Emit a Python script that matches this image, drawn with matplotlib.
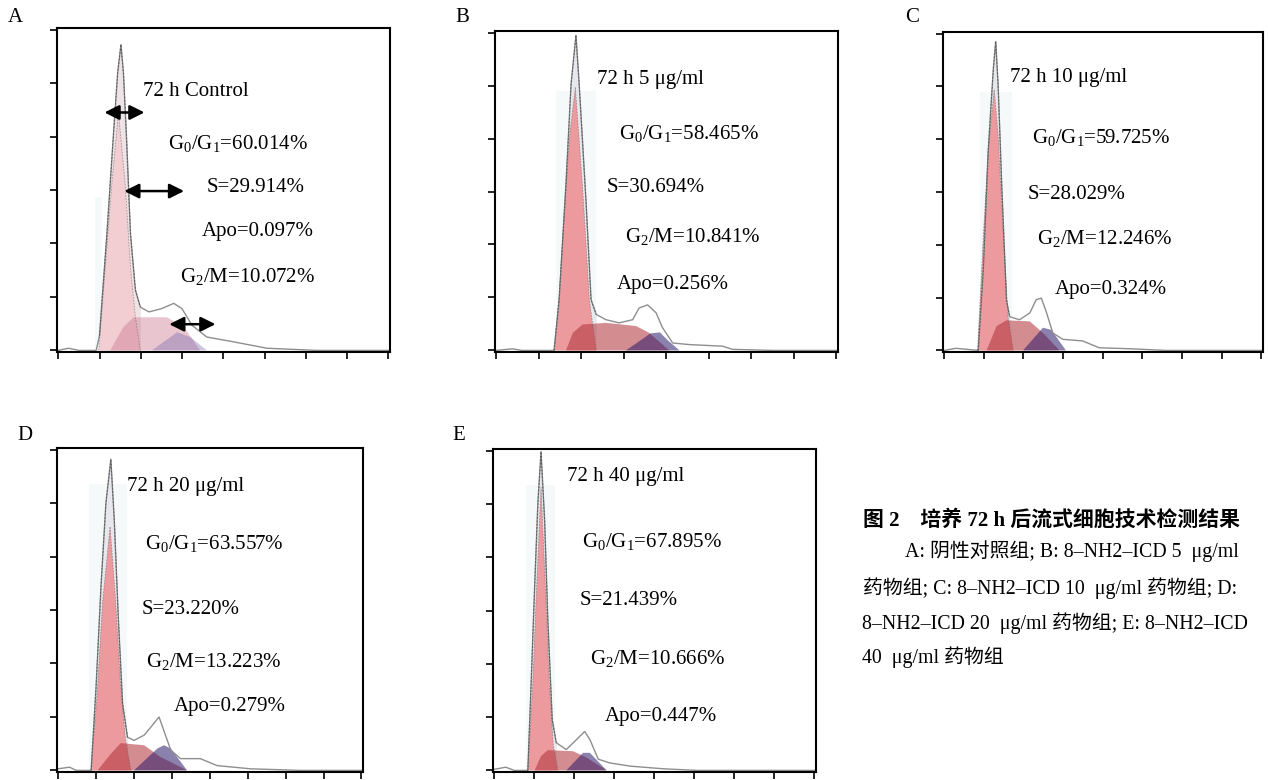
import matplotlib
matplotlib.use('Agg')
import matplotlib.pyplot as plt

plt.rcParams['font.family'] = ['Liberation Serif', 'Noto Sans CJK SC']
plt.rcParams['mathtext.fontset'] = 'custom'
plt.rcParams['mathtext.rm'] = 'Liberation Serif'
plt.rcParams['mathtext.it'] = 'Liberation Serif:italic'

W, H = 1268, 780
panels = ['A', 'B', 'C', 'D', 'E']

# DNA content histogram outline (channel 0-8, count 0-6)
hist_x = {
    'A': [0, 0.25, 0.5, 0.92, 1.0, 1.18, 1.34, 1.44, 1.52, 1.58, 1.65, 1.75, 1.87, 1.99,
          2.2, 2.5, 2.8, 3.0, 3.24, 3.6, 4.25, 5.06, 6.27, 8.0],
    'B': [0, 0.38, 0.6, 1.36, 1.48, 1.64, 1.76, 1.875, 1.95, 2.11, 2.23, 2.35, 2.58, 2.89,
          3.21, 3.36, 3.56, 3.76, 3.91, 4.15, 4.54, 5.32, 5.56, 6.5, 8.0],
    'C': [0, 0.3, 0.86, 0.99, 1.11, 1.24, 1.30, 1.36, 1.45, 1.57, 1.65, 1.90, 2.16, 2.32,
          2.45, 2.57, 2.74, 2.99, 3.49, 3.91, 4.74, 5.58, 8.0],
    'D': [0, 0.30, 0.48, 0.87, 1.0, 1.13, 1.26, 1.39, 1.48, 1.59, 1.70, 1.83, 2.0, 2.27,
          2.48, 2.66, 2.79, 2.97, 3.23, 3.75, 4.19, 5.07, 6.38, 8.0],
    'E': [0, 0.29, 0.5, 0.84, 0.92, 1.01, 1.09, 1.17, 1.26, 1.34, 1.45, 1.55, 1.80, 2.06,
          2.26, 2.39, 2.60, 2.89, 3.40, 4.23, 5.07, 8.0],
}
hist_y = {
    'A': [0, 0.04, 0, 0, 0.28, 2.19, 4.06, 5.19, 5.72, 5.19, 4.06, 2.19, 1.13, 0.81,
          0.72, 0.78, 0.88, 0.78, 0.47, 0.25, 0.16, 0.04, 0, 0],
    'B': [0, 0.03, 0, 0, 0.96, 3.15, 5.03, 5.95, 5.03, 2.84, 0.96, 0.68, 0.58, 0.52,
          0.58, 0.80, 0.86, 0.71, 0.43, 0.14, 0.11, 0.08, 0.02, 0, 0],
    'C': [0, 0.04, 0, 1.58, 3.78, 5.34, 5.85, 5.03, 3.15, 0.96, 0.64, 0.58, 0.71, 0.96,
          0.99, 0.74, 0.33, 0.21, 0.18, 0.05, 0.03, 0, 0],
    'D': [0.03, 0.06, 0, 0, 1.56, 3.44, 5.0, 5.82, 4.69, 2.81, 1.25, 0.62, 0.56, 0.66,
          0.84, 1.0, 0.74, 0.38, 0.22, 0.22, 0.09, 0.03, 0, 0],
    'E': [0.02, 0.06, 0, 0, 1.58, 3.44, 5.0, 5.98, 4.69, 2.82, 0.95, 0.52, 0.39, 0.58,
          0.73, 0.58, 0.21, 0.14, 0.08, 0.03, 0, 0],
}

# fitted cell-cycle components
g1_x = {
    'A': [0.98, 1.14, 1.30, 1.46, 1.62, 1.75, 1.87, 1.99],
    'B': [1.36, 1.47, 1.62, 1.73, 1.86, 1.94, 2.05, 2.19, 2.35],
    'C': [0.84, 0.99, 1.11, 1.26, 1.36, 1.49, 1.61, 1.74],
    'D': [0.87, 1.04, 1.17, 1.37, 1.52, 1.65, 1.78, 1.92],
    'E': [0.84, 0.96, 1.06, 1.17, 1.28, 1.38, 1.48, 1.59],
}
g1_y = {
    'A': [0, 1.56, 3.13, 4.44, 3.13, 1.56, 0.62, 0],
    'B': [0, 0.96, 2.84, 4.09, 4.97, 4.09, 2.84, 0.96, 0],
    'C': [0, 2.21, 3.78, 4.94, 4.09, 2.21, 0.64, 0],
    'D': [0, 1.56, 3.13, 4.56, 3.13, 1.56, 0.56, 0],
    'E': [0, 1.58, 3.44, 5.31, 3.44, 1.58, 0.45, 0],
}
s_x = {
    'A': [1.26, 1.58, 1.83, 2.63, 3.04, 3.44],
    'B': [1.64, 1.80, 2.03, 2.58, 3.29, 3.60, 4.07],
    'C': [1.07, 1.32, 1.57, 2.16, 2.49, 2.91],
    'D': [1.04, 1.39, 1.65, 2.27, 2.70, 3.40],
    'E': [1.01, 1.17, 1.34, 1.97, 2.31, 2.81],
}
s_y = {
    'A': [0, 0.44, 0.62, 0.62, 0.44, 0],
    'B': [0, 0.33, 0.49, 0.52, 0.46, 0.33, 0],
    'C': [0, 0.46, 0.57, 0.55, 0.33, 0],
    'D': [0, 0.31, 0.51, 0.47, 0.25, 0],
    'E': [0, 0.27, 0.38, 0.36, 0.24, 0],
}
g2_x = {
    'A': [2.27, 2.88, 3.20, 3.60],
    'B': [3.05, 3.45, 3.62, 3.85, 4.05, 4.31],
    'C': [1.99, 2.49, 2.70, 3.07],
    'D': [2.00, 2.62, 2.79, 2.97, 3.40],
    'E': [1.80, 2.22, 2.39, 2.81],
}
g2_y = {
    'A': [0, 0.34, 0.25, 0],
    'B': [0, 0.22, 0.32, 0.34, 0.18, 0],
    'C': [0, 0.43, 0.39, 0],
    'D': [0, 0.41, 0.47, 0.41, 0],
    'E': [0, 0.33, 0.33, 0],
}
# pale gate band behind the G1 peak: x from, x to, top
gate = {'A': (0.88, 1.06, 2.87), 'B': (1.40, 2.35, 4.9), 'C': (0.90, 1.70, 4.9),
        'D': (0.82, 1.81, 5.35), 'E': (0.80, 1.51, 5.35)}

titles = {'A': '72 h Control', 'B': '72 h 5 μg/ml', 'C': '72 h 10 μg/ml',
          'D': '72 h 20 μg/ml', 'E': '72 h 40 μg/ml'}
g0g1 = {'A': '60.014', 'B': '58.465', 'C': '59.725', 'D': '63.557', 'E': '67.895'}
s_phase = {'A': '29.914', 'B': '30.694', 'C': '28.029', 'D': '23.220', 'E': '21.439'}
g2m = {'A': '10.072', 'B': '10.841', 'C': '12.246', 'D': '13.223', 'E': '10.666'}
apo = {'A': '0.097', 'B': '0.256', 'C': '0.324', 'D': '0.279', 'E': '0.447'}

# layout (pixels): axes box left, top, right, bottom
boxes = {'A': (57, 28, 390, 352), 'B': (495, 31, 838, 352), 'C': (943, 32, 1263, 352),
         'D': (57, 448, 363, 772), 'E': (493, 449, 816, 772)}
# text positions: title, G0/G1, S, G2/M, Apo (left x, centre y in pixels)
text_pos = {
    'A': [(143, 89), (168, 142), (207, 185), (180, 275), (202, 229)],
    'B': [(597, 77), (619, 132), (607, 185), (625, 235), (617, 282)],
    'C': [(1010, 75), (1032, 136), (1028, 192), (1037, 237), (1055, 287)],
    'D': [(127, 484), (145, 542), (142, 607), (146, 660), (174, 704)],
    'E': [(567, 474), (582, 540), (580, 598), (590, 657), (605, 714)],
}
letter_pos = {'A': (15, 17), 'B': (462, 17), 'C': (912, 17), 'D': (25, 435), 'E': (459, 435)}

fig = plt.figure(figsize=(W / 100, H / 100), dpi=100)


def fx(px):
    return px / W


def fy(py):
    return 1 - py / H


for p in panels:
    l, t, r, b = boxes[p]
    ax = fig.add_axes([fx(l), fy(b), (r - l) / W, (b - t) / H])
    faded = p == 'A'
    under = '#eee3e6' if faded else '#e6e8ee'
    g1c = '#f2cdd2' if faded else '#ec9a9e'
    sc, sa = ('#c8708a', 0.4) if faded else ('#b03038', 0.55)
    g2c, g2a = ('#6a60a8', 0.35) if faded else ('#2a1a6a', 0.55)

    x0, x1, top = gate[p]
    ax.fill_between([x0, x1], [top, top], color='#f5f9f9', lw=0)
    # light fill only under the G1 peak of the histogram
    lo, hi = g1_x[p][0], g1_x[p][-1]
    pk_x = [x for x in hist_x[p] if lo <= x <= hi]
    pk_y = [y for x, y in zip(hist_x[p], hist_y[p]) if lo <= x <= hi]
    ax.fill_between(pk_x, pk_y, color=under, lw=0)
    ax.fill(g1_x[p], g1_y[p], color=g1c, lw=0)
    ax.fill(s_x[p], s_y[p], color=sc, alpha=sa, lw=0)
    ax.fill(g2_x[p], g2_y[p], color=g2c, alpha=g2a, lw=0)
    ax.plot(hist_x[p], hist_y[p], color='#8e8e8e', lw=1.0)
    ax.plot(pk_x, pk_y, color='#444444', lw=0.7, ls=(0, (2, 1.5)), alpha=0.7)
    ax.plot(g1_x[p], g1_y[p], color='#555555', lw=0.6, ls=(0, (2, 1.5)), alpha=0.5)

    ax.set_xlim(-0.03, 8.04)
    ax.set_ylim(-0.03, 6.03)
    ax.set_xticks(range(9))
    ax.set_yticks(range(7))
    ax.tick_params(direction='out', length=5, width=1.2, labelleft=False, labelbottom=False)
    for sp in ax.spines.values():
        sp.set_linewidth(1.5)
        sp.set_color('black')

    if p == 'A':
        for (ax0, ax1, ay) in [(1.12, 2.09, 4.45), (1.6, 3.05, 2.98), (2.69, 3.81, 0.49)]:
            ax.annotate('', xy=(ax1, ay), xytext=(ax0, ay),
                        arrowprops=dict(arrowstyle='<|-|>', color='black', lw=1.8,
                                        mutation_scale=22, shrinkA=0, shrinkB=0))

    labels = [titles[p],
              r'G$_\mathrm{0}$/G$_\mathrm{1}$=' + g0g1[p] + '%',
              'S=' + s_phase[p] + '%',
              r'G$_\mathrm{2}$/M=' + g2m[p] + '%',
              'Apo=' + apo[p] + '%']
    for txt, (tx, ty) in zip(labels, text_pos[p]):
        fig.text(fx(tx), fy(ty + 7), txt, fontsize=15, ha='left', va='baseline')

    lx, ly = letter_pos[p]
    fig.text(fx(lx), fy(ly), p, fontsize=15, ha='center', va='center')

# caption
fig.text(fx(863), fy(520), '图 2\u3000培养 72 h 后流式细胞技术检测结果', fontsize=15,
         fontweight='bold', ha='left', va='center')
caption = ['A: 阴性对照组; B: 8–NH2–ICD 5  μg/ml',
           '药物组; C: 8–NH2–ICD 10  μg/ml 药物组; D:',
           '8–NH2–ICD 20  μg/ml 药物组; E: 8–NH2–ICD',
           '40  μg/ml 药物组']
cap_pos = [(905, 551), (863, 588), (862, 623), (862, 657)]
for txt, (tx, ty) in zip(caption, cap_pos):
    fig.text(fx(tx), fy(ty), txt, fontsize=14.3, ha='left', va='center')

fig.savefig('out.png', dpi=100)
